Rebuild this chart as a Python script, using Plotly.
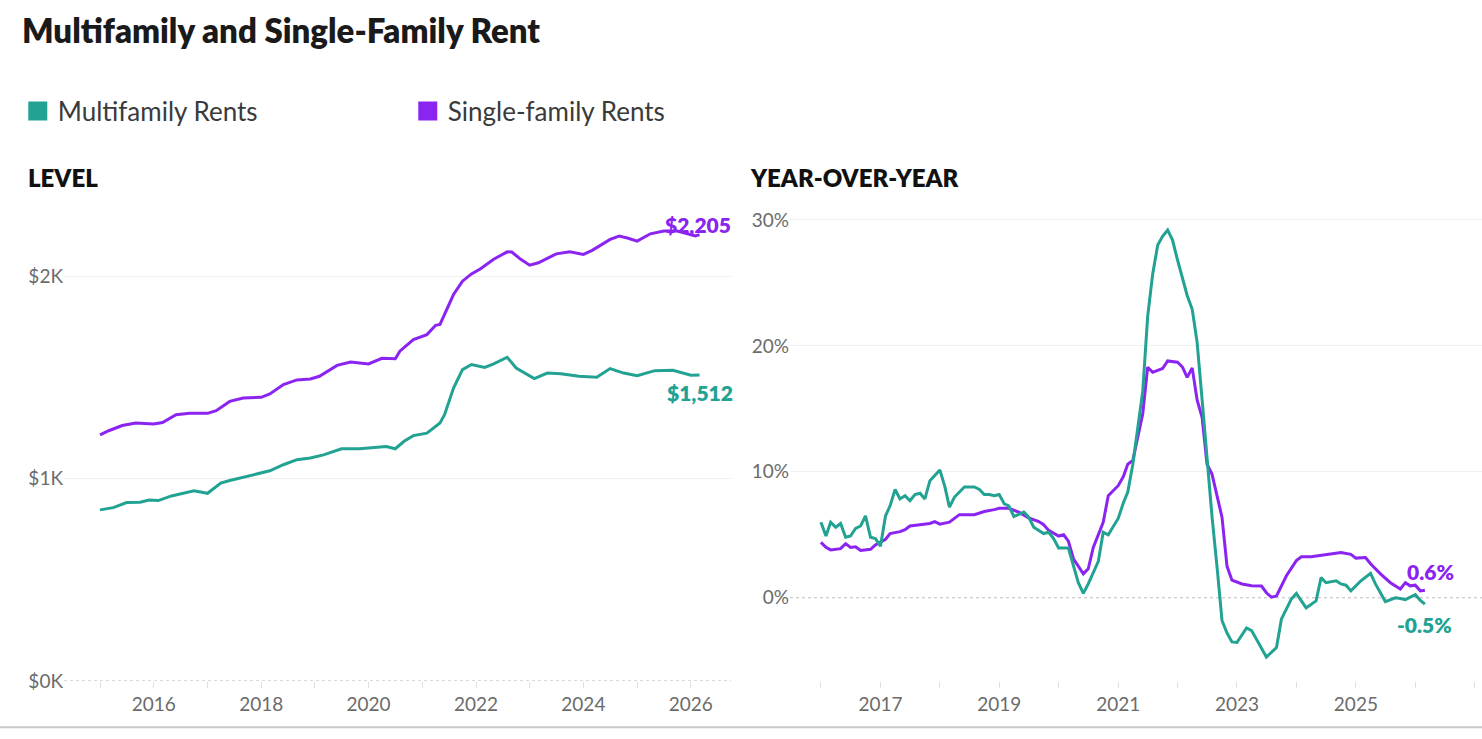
import plotly.graph_objects as go

# ---------------- data ----------------
teal = "#22a292"
purple = "#8b24f1"

mf_level_dates = ["2015-01", "2015-04", "2015-07", "2015-10", "2015-12", "2016-02", "2016-05", "2016-08",
                  "2016-10", "2017-01", "2017-04", "2017-06", "2017-09", "2017-12", "2018-03", "2018-06",
                  "2018-09", "2018-12", "2019-03", "2019-07", "2019-11", "2020-03", "2020-05", "2020-07",
                  "2020-09", "2020-11", "2021-02", "2021-05", "2021-06", "2021-08", "2021-10", "2021-12",
                  "2022-03", "2022-05", "2022-08", "2022-10", "2023-02", "2023-05", "2023-08", "2023-12",
                  "2024-04", "2024-07", "2024-10", "2025-01", "2025-05", "2025-09", "2026-01", "2026-03"]
mf_level = [845, 856, 881, 883, 894, 891, 914, 927,
            939, 927, 977, 990, 1006, 1021, 1038, 1068,
            1093, 1101, 1117, 1147, 1147, 1155, 1158, 1147,
            1185, 1212, 1224, 1274, 1315, 1447, 1538, 1563,
            1549, 1566, 1599, 1546, 1494, 1521, 1518, 1505,
            1500, 1543, 1521, 1508, 1533, 1535, 1510, 1512]

sf_level_dates = ["2015-01", "2015-03", "2015-06", "2015-09", "2016-01", "2016-03", "2016-06", "2016-09",
                  "2017-01", "2017-03", "2017-06", "2017-09", "2018-01", "2018-03", "2018-06", "2018-09",
                  "2018-12", "2019-02", "2019-06", "2019-09", "2020-01", "2020-04", "2020-07", "2020-08",
                  "2020-11", "2021-02", "2021-04", "2021-05", "2021-08", "2021-10", "2021-12", "2022-02",
                  "2022-05", "2022-08", "2022-09", "2022-11", "2023-01", "2023-03", "2023-07", "2023-10",
                  "2024-01", "2024-03", "2024-07", "2024-09", "2024-11", "2025-01", "2025-04", "2025-07",
                  "2025-10", "2026-01", "2026-02", "2026-03"]
sf_level = [1216, 1236, 1262, 1274, 1269, 1277, 1315, 1322,
            1322, 1335, 1381, 1398, 1401, 1418, 1464, 1487,
            1492, 1505, 1559, 1576, 1566, 1594, 1592, 1629,
            1686, 1711, 1757, 1761, 1909, 1975, 2011, 2036,
            2083, 2120, 2119, 2083, 2054, 2066, 2110, 2120,
            2107, 2127, 2181, 2198, 2187, 2173, 2209, 2223,
            2223, 2203, 2198, 2205]

mf_yoy_dates = ["2016-01", "2016-02", "2016-03", "2016-04", "2016-05", "2016-06", "2016-07", "2016-08",
                "2016-09", "2016-10", "2016-11", "2016-12", "2017-01", "2017-02", "2017-03", "2017-04",
                "2017-05", "2017-06", "2017-07", "2017-08", "2017-09", "2017-10", "2017-11", "2018-01",
                "2018-02", "2018-03", "2018-04", "2018-06", "2018-08", "2018-09", "2018-10", "2018-11",
                "2018-12", "2019-01", "2019-02", "2019-03", "2019-04", "2019-06", "2019-07", "2019-08",
                "2019-10", "2019-11", "2019-12", "2020-01", "2020-03", "2020-04", "2020-05", "2020-06",
                "2020-07", "2020-09", "2020-10", "2020-11", "2020-12", "2021-01", "2021-02", "2021-03",
                "2021-04", "2021-06", "2021-07", "2021-08", "2021-09", "2021-10", "2021-11", "2021-12",
                "2022-01", "2022-02", "2022-03", "2022-04", "2022-05", "2022-06", "2022-07", "2022-08",
                "2022-09", "2022-10", "2022-11", "2022-12", "2023-01", "2023-03", "2023-04", "2023-06",
                "2023-07", "2023-09", "2023-10", "2023-12", "2024-01", "2024-02", "2024-03", "2024-05",
                "2024-06", "2024-07", "2024-09", "2024-10", "2024-11", "2024-12", "2025-02", "2025-04",
                "2025-05", "2025-07", "2025-09", "2025-10", "2025-11", "2026-01", "2026-02", "2026-03"]
mf_yoy = [6.0, 4.9, 6.0, 5.6, 5.9, 4.8, 4.9, 5.5,
          5.7, 6.5, 4.8, 4.7, 4.1, 6.5, 7.3, 8.6,
          7.85, 8.1, 7.7, 8.2, 8.3, 7.85, 9.3, 10.15,
          8.8, 7.2, 8.0, 8.8, 8.8, 8.6, 8.2, 8.2,
          8.1, 8.2, 7.45, 7.3, 6.45, 6.8, 6.4, 5.6,
          5.1, 5.2, 4.7, 3.95, 3.95, 2.6, 1.2, 0.35,
          1.1, 2.9, 5.2, 5.0, 5.6, 6.3, 7.5, 8.4,
          10.6, 16.4, 22.3, 25.7, 28.0, 28.7, 29.2, 28.4,
          26.8, 25.2, 24.0, 22.9, 20.3, 15.7, 10.9, 6.4,
          2.4, -1.8, -2.8, -3.5, -3.55, -2.4, -2.6, -3.95,
          -4.7, -3.95, -1.7, -0.1, 0.35, -0.25, -0.8, -0.25,
          1.6, 1.2, 1.35, 1.1, 1.0, 0.55, 1.35, 1.95,
          1.1, -0.3, 0.0, -0.05, -0.15, 0.25, -0.2, -0.5]

sf_yoy_dates = ["2016-01", "2016-02", "2016-03", "2016-05", "2016-06", "2016-07", "2016-08", "2016-09",
                "2016-11", "2016-12", "2017-02", "2017-03", "2017-05", "2017-06", "2017-07", "2017-09",
                "2017-11", "2017-12", "2018-01", "2018-03", "2018-05", "2018-08", "2018-10", "2018-12",
                "2019-01", "2019-03", "2019-05", "2019-07", "2019-09", "2019-10", "2019-11", "2020-01",
                "2020-02", "2020-03", "2020-04", "2020-06", "2020-07", "2020-08", "2020-10", "2020-11",
                "2021-01", "2021-02", "2021-03", "2021-04", "2021-06", "2021-07", "2021-08", "2021-10",
                "2021-11", "2022-01", "2022-02", "2022-03", "2022-04", "2022-05", "2022-06", "2022-07",
                "2022-08", "2022-10", "2022-11", "2022-12", "2023-02", "2023-04", "2023-06", "2023-07",
                "2023-08", "2023-09", "2023-11", "2024-01", "2024-02", "2024-04", "2024-06", "2024-08",
                "2024-10", "2024-12", "2025-01", "2025-03", "2025-04", "2025-06", "2025-08", "2025-10",
                "2025-11", "2025-12", "2026-01", "2026-02", "2026-03"]
sf_yoy = [4.4, 4.0, 3.8, 3.9, 4.3, 4.0, 4.05, 3.75,
          3.85, 4.2, 4.65, 5.1, 5.25, 5.4, 5.7, 5.8,
          5.9, 6.05, 5.85, 6.0, 6.6, 6.6, 6.85, 7.0,
          7.1, 7.1, 6.8, 6.35, 6.05, 5.8, 5.35, 4.9,
          5.0, 4.5, 3.1, 1.9, 2.3, 4.0, 6.0, 8.1,
          8.9, 9.6, 10.6, 10.9, 14.6, 18.3, 17.9, 18.2,
          18.8, 18.7, 18.3, 17.5, 18.25, 15.7, 14.3, 10.6,
          9.8, 6.4, 2.5, 1.4, 1.1, 0.95, 0.93, 0.4,
          0.05, 0.15, 1.75, 2.95, 3.25, 3.25, 3.35, 3.5,
          3.6, 3.45, 3.15, 3.2, 2.7, 1.9, 1.2, 0.7,
          1.2, 0.95, 1.0, 0.55, 0.6]

series_names = ["Multifamily Rents", "Single-family Rents"]
level_ticks = [0, 1000, 2000]
level_ticktext = ["$0K", "$1K", "$2K"]
level_grid = [1000, 2000]
yoy_ticks = [0, 10, 20, 30]
yoy_ticktext = ["0%", "10%", "20%", "30%"]
yoy_grid = [10, 20, 30]
panel_titles = ["LEVEL", "YEAR-OVER-YEAR"]
chart_title = "Multifamily and Single-Family Rent"

# ---------------- figure ----------------
W, H = 1482, 739
HV = 727  # effective vertical extent used to place elements in paper coordinates
FONT = "Lato"
TICK_FONT = dict(family=FONT, size=19, color="#6b6b6b")
LEVEL_RANGE = [0, 2340]
YOY_RANGE = [-6.6, 31]
Y_DOMAIN = [1 - 680 / HV, 1 - 207 / HV]


def py(p):
    return 1 - p / HV


fig = go.Figure()

line_w = 3
fig.add_trace(go.Scatter(x=sf_level_dates, y=sf_level, mode="lines", line=dict(color=purple, width=line_w),
                         showlegend=False, xaxis="x", yaxis="y", hoverinfo="skip"))
fig.add_trace(go.Scatter(x=mf_level_dates, y=mf_level, mode="lines", line=dict(color=teal, width=line_w),
                         showlegend=False, xaxis="x", yaxis="y", hoverinfo="skip"))
fig.add_trace(go.Scatter(x=sf_yoy_dates, y=sf_yoy, mode="lines", line=dict(color=purple, width=line_w),
                         showlegend=False, xaxis="x2", yaxis="y2", hoverinfo="skip"))
fig.add_trace(go.Scatter(x=mf_yoy_dates, y=mf_yoy, mode="lines", line=dict(color=teal, width=line_w),
                         showlegend=False, xaxis="x2", yaxis="y2", hoverinfo="skip"))
# empty traces so the grid-only overlay axes are drawn
fig.add_trace(go.Scatter(x=[None], y=[None], mode="lines", showlegend=False, xaxis="x", yaxis="y3",
                         hoverinfo="skip"))
fig.add_trace(go.Scatter(x=[None], y=[None], mode="lines", showlegend=False, xaxis="x2", yaxis="y4",
                         hoverinfo="skip"))

# legend-only entries
for name, col in zip(series_names, [teal, purple]):
    fig.add_trace(go.Scatter(x=[None], y=[None], mode="markers", name=name,
                             marker=dict(symbol="square", size=16, color=col,
                                         line=dict(color=col, width=3)),
                             xaxis="x", yaxis="y", showlegend=True))

xcommon = dict(type="date", showgrid=False, zeroline=False, showline=False,
               ticks="outside", ticklen=6, tickcolor="#e0e0e0", tickformat="%Y",
               tickfont=TICK_FONT, fixedrange=True)
ycommon = dict(domain=Y_DOMAIN, showgrid=False, zeroline=False, showline=False,
               tickfont=TICK_FONT, fixedrange=True)
ygrid = dict(domain=Y_DOMAIN, showgrid=True, gridcolor="#efefef", gridwidth=1, zeroline=False,
             showline=False, showticklabels=False, ticks="", fixedrange=True)

fig.update_layout(
    width=W, height=H, autosize=False,
    margin=dict(l=0, r=0, t=0, b=0),
    paper_bgcolor="white", plot_bgcolor="white",
    font=dict(family=FONT),
    legend=dict(orientation="h", x=0.012, xanchor="left", y=py(111), yanchor="middle",
                font=dict(family=FONT, size=26, color="#3a3a3a"),
                entrywidth=345, entrywidthmode="pixels", bgcolor="rgba(0,0,0,0)",
                itemclick=False, itemdoubleclick=False),
    xaxis=dict(domain=[64 / W, 731 / W], range=["2014-05-01", "2026-10-01"],
               tick0="2016-01-01", dtick="M24",
               minor=dict(dtick="M12", tick0="2015-01-01", ticks="outside", ticklen=6,
                          tickcolor="#e0e0e0", showgrid=False),
               anchor="y", **xcommon),
    yaxis=dict(range=LEVEL_RANGE, tickvals=level_ticks, ticktext=level_ticktext, anchor="x", **ycommon),
    yaxis3=dict(range=LEVEL_RANGE, tickvals=level_grid, overlaying="y", anchor="x", **ygrid),
    xaxis2=dict(domain=[790 / W, 1.0], range=["2015-06-25", "2027-02-15"],
                tick0="2017-01-01", dtick="M24",
                minor=dict(dtick="M12", tick0="2016-01-01", ticks="outside", ticklen=6,
                           tickcolor="#e0e0e0", showgrid=False),
                anchor="y2", **xcommon),
    yaxis2=dict(range=YOY_RANGE, tickvals=yoy_ticks, ticktext=yoy_ticktext, anchor="x2", **ycommon),
    yaxis4=dict(range=YOY_RANGE, tickvals=yoy_grid, overlaying="y2", anchor="x2", **ygrid),
)

# chart title
fig.add_annotation(text=chart_title, xref="paper", yref="paper", x=20 / W, y=py(30),
                   xanchor="left", yanchor="middle", showarrow=False,
                   font=dict(family=FONT, size=33, color="#1a1a1a", weight=800))

# dotted zero lines
for xr, yr in [("x domain", "y"), ("x2 domain", "y2")]:
    fig.add_shape(type="line", xref=xr, x0=0, x1=1, yref=yr, y0=0, y1=0,
                  line=dict(color="#bdbdbd", width=1, dash="dot"), layer="below")

# bottom page border
fig.add_shape(type="line", xref="paper", yref="paper", x0=0, x1=1, y0=0.001, y1=0.001,
              line=dict(color="#c8c8c8", width=2), layer="above")

# panel titles
for txt, xp in zip(panel_titles, [26 / W, 748 / W]):
    fig.add_annotation(text=txt, xref="paper", yref="paper", x=xp, y=py(177),
                       xanchor="left", yanchor="middle", showarrow=False,
                       font=dict(family=FONT, size=24, color="#111111", weight=800))

# end labels
end_font = dict(family=FONT, size=21, weight=800)
fig.add_annotation(text="$" + f"{sf_level[-1]:,}", x=sf_level_dates[-1], y=sf_level[-1], xref="x", yref="y",
                   showarrow=False, yshift=10, xshift=-2, xanchor="center",
                   font=dict(color=purple, **end_font))
fig.add_annotation(text="$" + f"{mf_level[-1]:,}", x=mf_level_dates[-1], y=mf_level[-1], xref="x", yref="y",
                   showarrow=False, yshift=-18, xanchor="center",
                   font=dict(color=teal, **end_font))
fig.add_annotation(text=f"{sf_yoy[-1]:.1f}%", x=sf_yoy_dates[-1], y=sf_yoy[-1], xref="x2", yref="y2",
                   showarrow=False, yshift=19, xshift=6, xanchor="center",
                   font=dict(color=purple, **end_font))
fig.add_annotation(text=f"{mf_yoy[-1]:.1f}%", x=mf_yoy_dates[-1], y=mf_yoy[-1], xref="x2", yref="y2",
                   showarrow=False, yshift=-20, xanchor="center",
                   font=dict(color=teal, **end_font))

post = (
    "var de=document.documentElement, b=document.body;"
    "de.style.margin='0'; de.style.padding='0'; de.style.overflow='hidden';"
    "b.style.margin='0'; b.style.padding='0'; b.style.overflow='hidden';"
)
fig.write_html("out.html", config={"displayModeBar": False, "responsive": False}, post_script=post)
